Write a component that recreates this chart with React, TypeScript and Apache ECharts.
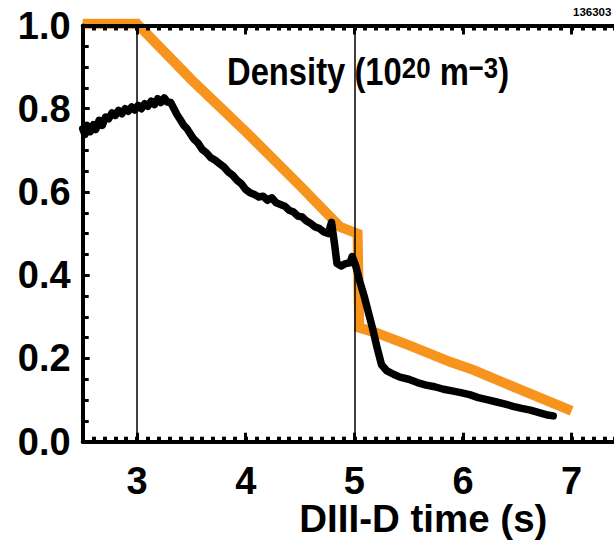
import React, { useEffect, useRef } from "react";
import * as echarts from "echarts";

const orangeTime = [2.5, 3.0, 3.5, 4.0, 4.5, 4.87, 5.03, 5.045, 5.2, 5.5, 5.88, 6.1, 6.5, 7.0];
const orangeDensity = [1.004, 1.004, 0.87, 0.745, 0.615, 0.516, 0.5, 0.274, 0.262, 0.232, 0.192, 0.172, 0.128, 0.074];

const blackTime = [
  2.5, 2.52, 2.54, 2.57, 2.6, 2.62, 2.65, 2.68, 2.71, 2.74, 2.77, 2.8, 2.83, 2.86, 2.89, 2.92, 2.95, 2.98,
  3.01, 3.04, 3.07, 3.1, 3.13, 3.16, 3.19, 3.22, 3.25, 3.28, 3.31, 3.34, 3.37, 3.4, 3.43, 3.46, 3.49, 3.52,
  3.56, 3.6, 3.64, 3.68, 3.72, 3.76, 3.8, 3.84, 3.88, 3.92, 3.96, 4.0, 4.04, 4.08, 4.12, 4.16, 4.2, 4.24,
  4.28, 4.32, 4.36, 4.4, 4.44, 4.48, 4.52, 4.56, 4.6, 4.64, 4.68, 4.72, 4.76, 4.79, 4.82, 4.84, 4.88, 4.92,
  4.96, 4.98, 5.01, 5.05, 5.09, 5.13, 5.17, 5.21, 5.25, 5.3, 5.36, 5.42, 5.5, 5.58, 5.66, 5.74, 5.82, 5.9,
  5.98, 6.06, 6.14, 6.22, 6.3, 6.38, 6.46, 6.54, 6.62, 6.7, 6.78, 6.83,
];
const blackDensity = [
  0.752, 0.738, 0.76, 0.745, 0.762, 0.75, 0.772, 0.76, 0.78, 0.776, 0.79, 0.784, 0.796, 0.788, 0.8, 0.794, 0.804, 0.797,
  0.808, 0.8, 0.812, 0.806, 0.818, 0.81, 0.824, 0.815, 0.826, 0.816, 0.815, 0.8, 0.785, 0.773, 0.76, 0.752, 0.74, 0.728,
  0.718, 0.702, 0.694, 0.682, 0.676, 0.668, 0.66, 0.648, 0.64, 0.628, 0.62, 0.606, 0.598, 0.594, 0.588, 0.59, 0.58, 0.586,
  0.574, 0.57, 0.566, 0.556, 0.552, 0.542, 0.54, 0.53, 0.524, 0.516, 0.512, 0.504, 0.5, 0.527, 0.47, 0.428, 0.422, 0.428,
  0.43, 0.445, 0.425, 0.385, 0.35, 0.31, 0.27, 0.225, 0.185, 0.17, 0.162, 0.155, 0.15, 0.142, 0.136, 0.132, 0.126, 0.122,
  0.118, 0.113, 0.106, 0.101, 0.096, 0.091, 0.085, 0.08, 0.076, 0.07, 0.064, 0.062,
];

const xTickValues = [3, 4, 5, 6, 7];
const markerTimes = [3, 5];

const FONT = "'Liberation Sans', Arial, Helvetica, sans-serif";

export default function App() {
  const ref = useRef<HTMLDivElement>(null);

  useEffect(() => {
    if (!ref.current) return;
    const chart = echarts.init(ref.current, null, { renderer: "svg" });

    const baseX = {
      type: "value",
      min: 2.5,
      max: 7.5,
      splitLine: { show: false },
    };

    const option: any = {
      animation: false,
      backgroundColor: "#fff",
      grid: { left: 82.7, right: 0, top: 25.5, bottom: 98.3, containLabel: false, outerBoundsMode: "none" },
      xAxis: [
        {
          ...baseX,
          position: "bottom",
          interval: 0.1,
          axisLine: { show: true, lineStyle: { color: "#000", width: 4 } },
          axisTick: { show: true, inside: true, length: 5, lineStyle: { color: "#000", width: 4 } },
          axisLabel: {
            show: true,
            customValues: xTickValues,
            fontSize: 38,
            lineHeight: 30,
            fontWeight: "bold",
            fontFamily: FONT,
            color: "#000",
            margin: 24,
            formatter: (v: number) => String(Math.round(v)),
          },
          name: "DIII-D time (s)",
          nameLocation: "middle",
          nameGap: 62,
          nameMoveOverlap: false,
          nameTextStyle: {
            fontSize: 38.5,
            lineHeight: 30,
            fontWeight: "bold",
            fontFamily: FONT,
            color: "#000",
            padding: [0, 0, 0, 138],
          },
          z: 5,
        },
        {
          ...baseX,
          position: "bottom",
          axisLine: { show: false },
          axisTick: { show: true, inside: true, length: 9, customValues: xTickValues, lineStyle: { color: "#000", width: 3 } },
          axisLabel: { show: false },
          z: 5,
        },
        {
          ...baseX,
          position: "top",
          interval: 0.1,
          axisLine: { show: true, lineStyle: { color: "#000", width: 4 } },
          axisTick: { show: true, inside: true, length: 5, lineStyle: { color: "#000", width: 4 } },
          axisLabel: { show: false },
          z: 5,
        },
        {
          ...baseX,
          position: "top",
          axisLine: { show: false },
          axisTick: { show: true, inside: true, length: 9, customValues: xTickValues, lineStyle: { color: "#000", width: 3 } },
          axisLabel: { show: false },
          z: 5,
        },
      ],
      yAxis: {
        type: "value",
        min: 0,
        max: 1,
        interval: 0.2,
        position: "left",
        axisLine: { show: true, lineStyle: { color: "#000", width: 4 } },
        axisTick: { show: true, inside: true, length: 7, lineStyle: { color: "#000", width: 3 } },
        minorTick: { show: true, splitNumber: 4, length: 6, lineStyle: { color: "#000", width: 3 } },
        splitLine: { show: false },
        axisLabel: {
          fontSize: 38,
          fontWeight: "bold",
          fontFamily: FONT,
          color: "#000",
          margin: 12,
          formatter: (v: number) => v.toFixed(1),
        },
        z: 5,
      },
      graphic: [
        {
          type: "text",
          x: 227,
          y: 53,
          scaleX: 0.862,
          style: {
            text: "{a|Density (10}{s|20}{a| m}{s|\u22123}{a|)}",
            align: "left",
            verticalAlign: "top",
            fill: "#000",
            rich: {
              a: { fontSize: 38, fontWeight: "bold", fontFamily: FONT, lineHeight: 38, fill: "#000" },
              s: { fontSize: 30, fontWeight: "bold", fontFamily: FONT, lineHeight: 24, verticalAlign: "top", fill: "#000" },
            },
          },
          z: 10,
        },
        {
          type: "text",
          x: 573,
          y: 6,
          style: {
            text: "136303",
            fontSize: 11.5,
            fontWeight: "bold",
            fontFamily: FONT,
            fill: "#000",
          },
          z: 10,
        },
      ],
      series: [
        {
          type: "line",
          name: "orange",
          data: orangeTime.map((t, i) => [t, orangeDensity[i]]),
          symbol: "none",
          clip: false,
          lineStyle: { color: "#F7941E", width: 10, cap: "butt", join: "miter" },
          z: 2,
          markLine: {
            silent: true,
            symbol: "none",
            label: { show: false },
            lineStyle: { color: "#000", width: 1.5, type: "solid" },
            data: markerTimes.map((t) => ({ xAxis: t })),
          },
        },
        {
          type: "line",
          name: "density",
          data: blackTime.map((t, i) => [t, blackDensity[i]]),
          symbol: "none",
          clip: false,
          lineStyle: { color: "#000", width: 7.5, cap: "round", join: "round" },
          z: 3,
        },
      ],
    };

    chart.setOption(option);
    return () => chart.dispose();
  }, []);

  return (
    <div style={{ position: "absolute", left: 0, top: 0, width: 614, height: 540, overflow: "hidden", background: "#fff" }}>
      <div ref={ref} style={{ width: 626, height: 540 }} />
    </div>
  );
}
